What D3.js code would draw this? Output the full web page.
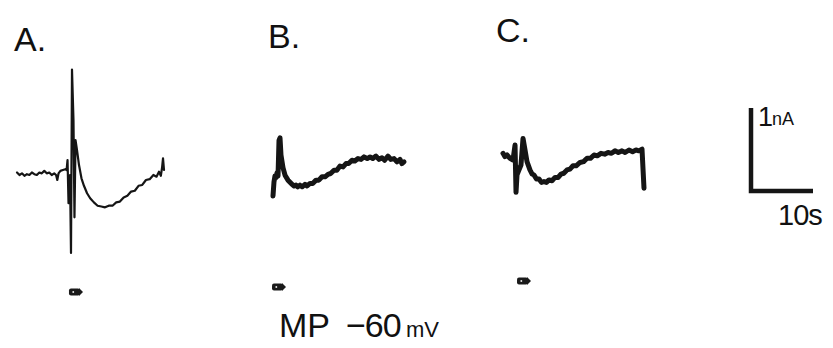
<!DOCTYPE html>
<html>
<head>
<meta charset="utf-8">
<script src="https://cdn.jsdelivr.net/npm/d3@7"></script>
<style>
  html, body { margin: 0; padding: 0; background: #fff; }
  svg { display: block; }
  text { font-family: "Liberation Sans", Arial, Helvetica, sans-serif; fill: #111; }
</style>
</head>
<body>
<svg id="chart" width="833" height="348"></svg>
<script>
// Membrane current recordings at MP -60 mV, three conditions (A, B, C).
// Time in seconds from the start of each sweep, current in nA relative to the pre-stimulus level.
const panelNames = ["A.", "B.", "C."];

const timeA = [0, 0.4, 0.8, 1.2, 1.6, 2.0, 2.4, 2.8, 3.2, 3.6, 4.0, 4.4, 4.8, 5.2, 5.6, 6.0, 6.3, 6.5, 6.7, 7.0, 7.4, 7.8, 8.0,
  8.15, 8.31, 8.55, 8.71, 8.87, 9.11, 9.27, 9.44, 9.68, 10.0, 10.4, 10.8, 11.3, 11.8, 12.4, 13.0, 13.6, 14.2, 14.8, 15.4,
  16.0, 16.6, 17.2, 17.8, 18.4, 19.0, 19.6, 20.2, 20.8, 21.4, 22.0, 22.5, 22.9, 23.2, 23.4, 23.55, 23.71];
const currentA = [0.03, 0.0, 0.02, -0.01, 0.01, 0.0, 0.03, 0.01, 0.0, 0.03, 0.02, 0.05, 0.02, 0.03, 0.0, 0.02, 0.0, -0.06, 0.02, 0.05, 0.06, 0.07, 0.06,
  0.18, -0.34, 0.0, -0.94, 1.27, 0.66, -0.51, 0.42, 0.30, 0.12, -0.04, -0.13, -0.22, -0.28, -0.33, -0.37, -0.38, -0.39, -0.37, -0.37,
  -0.33, -0.32, -0.27, -0.25, -0.20, -0.19, -0.13, -0.12, -0.06, -0.05, 0.0, -0.02, 0.04, -0.01, 0.09, 0.20, 0.06];

const timeB = [0, 0.16, 0.32, 0.48, 0.65, 0.81, 0.97, 1.13, 1.29, 1.61, 1.94, 2.42, 3.06, 3.4, 3.71, 4.0, 4.35, 4.7, 5.16, 5.5,
  5.97, 6.4, 6.94, 7.4, 7.90, 8.4, 8.87, 9.3, 9.84, 10.3, 10.81, 11.3, 11.77, 12.2, 12.74, 13.2, 13.71, 14.2, 14.68, 15.2,
  15.65, 16.1, 16.61, 17.1, 17.58, 18.0, 18.55, 19.0, 19.52, 20.0, 20.48, 20.8, 21.13];
const currentB = [-0.24, -0.07, 0, -0.02, 0.04, 0, 0.43, 0.46, 0.25, 0.10, 0.01, -0.05, -0.10, -0.12, -0.11, -0.13, -0.11, -0.13, -0.10, -0.12,
  -0.09, -0.09, -0.05, -0.05, -0.01, -0.01, 0.02, 0.03, 0.07, 0.07, 0.12, 0.11, 0.15, 0.15, 0.19, 0.18, 0.21, 0.20, 0.23, 0.21,
  0.23, 0.21, 0.24, 0.20, 0.22, 0.19, 0.24, 0.20, 0.21, 0.17, 0.20, 0.15, 0.17];

const timeC = [0, 0.32, 0.65, 1.13, 1.61, 1.94, 2.10, 2.26, 2.58, 2.90, 3.23, 3.55, 3.87, 4.35, 4.7, 5.0, 5.4, 5.81, 6.2, 6.61,
  7.0, 7.42, 7.9, 8.39, 8.9, 9.35, 9.8, 10.32, 10.8, 11.29, 11.8, 12.42, 13.0, 13.55, 14.1, 14.68, 15.2, 15.81, 16.4, 16.94,
  17.5, 18.06, 18.6, 19.19, 19.7, 20.32, 20.9, 21.45, 21.9, 22.42, 22.74];
const currentC = [0.02, -0.02, 0, -0.04, -0.06, 0.12, -0.45, -0.24, -0.18, -0.12, 0.20, 0.06, -0.08, -0.18, -0.23, -0.24, -0.29, -0.29, -0.33, -0.32,
  -0.33, -0.30, -0.31, -0.27, -0.27, -0.23, -0.22, -0.18, -0.17, -0.13, -0.13, -0.09, -0.08, -0.04, -0.04, 0.0, -0.01, 0.02, 0.01, 0.03,
  0.02, 0.05, 0.03, 0.05, 0.03, 0.06, 0.04, 0.06, 0.05, 0.07, -0.40];

// stimulus onset (s) for each sweep
const stimulusTimes = [9.35, 0.81, 3.23];

// calibration bar
const scaleBarTime = 10;   // s
const scaleBarCurrent = 1; // nA
const scaleBarLabels = ["1", "nA", "10s"];
const holdingLabel = ["MP", "\u221260", "mV"];

// ---- layout ----
const pxPerSecond = 6.2;
const pxPerNanoamp = 83;

const panels = [
  { name: panelNames[0], t: timeA, i: currentA, stim: stimulusTimes[0], x0: 17, y0: 175, labelX: 14, labelY: 51, markY: 292, width: 2.2 },
  { name: panelNames[1], t: timeB, i: currentB, stim: stimulusTimes[1], x0: 273, y0: 176, labelX: 268, labelY: 48, markY: 287, width: 5 },
  { name: panelNames[2], t: timeC, i: currentC, stim: stimulusTimes[2], x0: 503, y0: 155, labelX: 496, labelY: 42, markY: 281, width: 5 }
];

const svg = d3.select("#chart");

panels.forEach(p => {
  const x = d3.scaleLinear().domain([0, 10]).range([p.x0, p.x0 + 10 * pxPerSecond]);
  const y = d3.scaleLinear().domain([0, 1]).range([p.y0, p.y0 - pxPerNanoamp]);
  const pts = p.t.map((t, k) => [t, p.i[k]]);

  const line = d3.line().x(d => x(d[0])).y(d => y(d[1]));

  svg.append("path")
    .attr("d", line(pts))
    .attr("fill", "none")
    .attr("stroke", "#151515")
    .attr("stroke-width", p.width)
    .attr("stroke-linejoin", "round")
    .attr("stroke-linecap", "round");

  // panel letter
  svg.append("text")
    .attr("x", p.labelX).attr("y", p.labelY)
    .attr("font-size", 34)
    .text(p.name);

  // stimulus marker below the trace
  const mx = x(p.stim);
  const g = svg.append("g").attr("transform", `translate(${mx},${p.markY})`);
  g.append("rect").attr("x", -6).attr("y", -3.5).attr("width", 11).attr("height", 7).attr("rx", 2).attr("fill", "#1a1a1a");
  g.append("path").attr("d", "M4,-4 L8,0 L4,4 Z").attr("fill", "#1a1a1a");
  g.append("rect").attr("x", -2.5).attr("y", -0.8).attr("width", 1.6).attr("height", 1.6).attr("fill", "#fff");
});

// calibration bar: 1 nA vertical, 10 s horizontal
const sbX = d3.scaleLinear().domain([0, scaleBarTime]).range([751, 751 + scaleBarTime * pxPerSecond]);
const sbY = d3.scaleLinear().domain([0, scaleBarCurrent]).range([191, 191 - scaleBarCurrent * pxPerNanoamp]);
svg.append("path")
  .attr("d", `M${sbX(0)},${sbY(scaleBarCurrent)} L${sbX(0)},${sbY(0)} L${sbX(scaleBarTime)},${sbY(0)}`)
  .attr("fill", "none")
  .attr("stroke", "#151515")
  .attr("stroke-width", 4.5)
  .attr("stroke-linejoin", "miter");

svg.append("text").attr("x", 758).attr("y", 126).attr("font-size", 27).text(scaleBarLabels[0]);
svg.append("text").attr("x", 772).attr("y", 125).attr("font-size", 18).text(scaleBarLabels[1]);
svg.append("text").attr("x", 778).attr("y", 225).attr("font-size", 29).attr("letter-spacing", -1).text(scaleBarLabels[2]);

// holding potential
svg.append("text").attr("x", 279).attr("y", 337).attr("font-size", 34).text(holdingLabel[0]);
svg.append("text").attr("x", 346).attr("y", 337).attr("font-size", 34).attr("letter-spacing", -1).text(holdingLabel[1]);
svg.append("text").attr("x", 406).attr("y", 337).attr("font-size", 22).text(holdingLabel[2]);
</script>
</body>
</html>
